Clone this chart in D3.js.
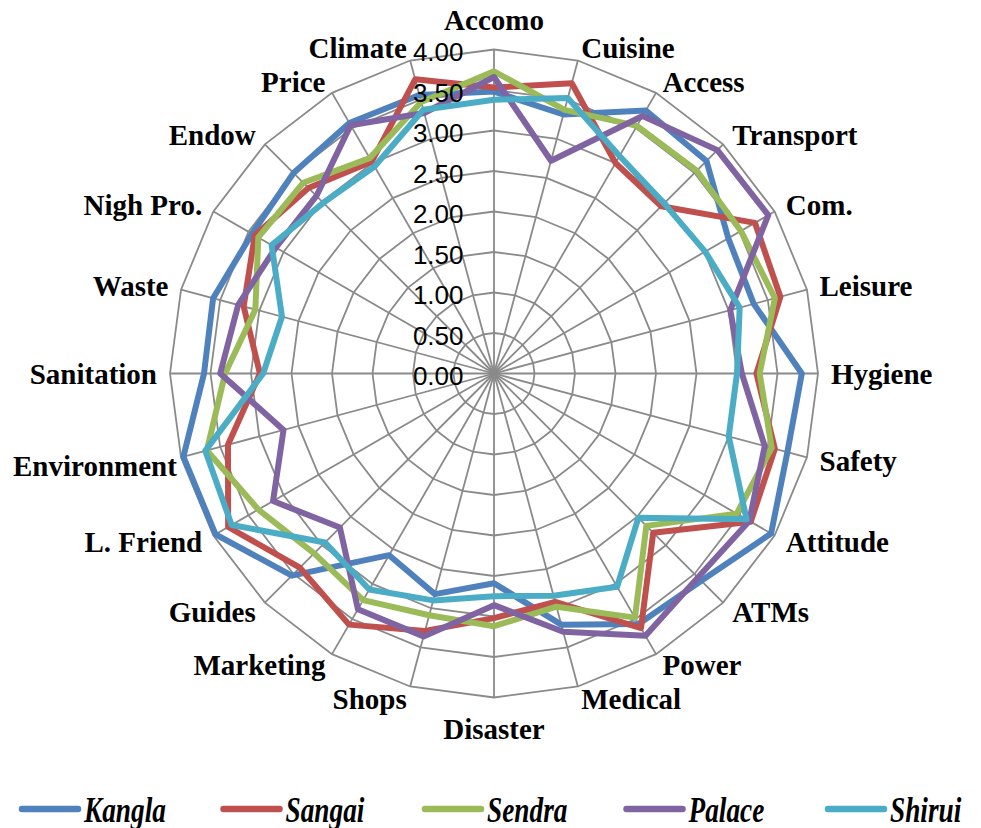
<!DOCTYPE html>
<html>
<head>
<meta charset="utf-8">
<script src="https://cdn.jsdelivr.net/npm/d3@7"></script>
<style>
  html, body { margin: 0; padding: 0; background: #ffffff; }
  svg { display: block; }
</style>
</head>
<body>
<svg id="chart" width="981" height="828"></svg>
<script>
// ---------------- DATA ----------------
const categories = ["Accomo", "Cuisine", "Access", "Transport", "Com.", "Leisure", "Hygiene",
  "Safety", "Attitude", "ATMs", "Power", "Medical", "Disaster", "Shops", "Marketing", "Guides",
  "L. Friend", "Environment", "Sanitation", "Waste", "Nigh Pro.", "Endow", "Price", "Climate"];

const seriesNames = ["Kangla", "Sangai", "Sendra", "Palace", "Shirui"];

const kangla = [3.48, 3.31, 3.75, 3.71, 3.34, 3.32, 3.80, 3.75, 3.95, 3.62, 3.57, 3.21,
  2.59, 2.82, 2.59, 3.53, 3.97, 3.97, 3.58, 3.59, 3.45, 3.50, 3.57, 3.56];
const sangai = [3.53, 3.71, 3.00, 2.92, 3.72, 3.66, 3.24, 3.59, 3.66, 2.78, 3.63, 2.92,
  3.02, 3.29, 3.58, 3.39, 3.79, 3.40, 2.89, 3.20, 3.41, 3.24, 3.02, 3.76];
const sendra = [3.73, 3.37, 3.53, 3.54, 3.52, 3.59, 3.28, 3.55, 3.46, 2.66, 3.48, 2.98,
  3.12, 3.09, 3.23, 3.14, 3.36, 3.67, 3.32, 3.05, 3.36, 3.33, 3.07, 3.47];
const palace = [3.66, 2.72, 3.67, 3.90, 3.91, 3.02, 3.06, 3.46, 3.64, 3.56, 3.74, 3.30,
  2.86, 3.36, 3.36, 2.69, 3.15, 2.69, 3.38, 3.27, 3.11, 3.10, 3.54, 3.33];
const shirui = [3.38, 3.52, 3.10, 2.97, 3.01, 3.14, 3.00, 3.00, 3.60, 2.52, 3.04, 2.84,
  2.75, 2.90, 3.08, 2.95, 3.74, 3.69, 2.85, 2.71, 3.17, 2.98, 2.95, 3.37];

const tickValues = [0, 0.5, 1, 1.5, 2, 2.5, 3, 3.5, 4];
const tickLabels = ["0.00", "0.50", "1.00", "1.50", "2.00", "2.50", "3.00", "3.50", "4.00"];

const seriesColors = ["#4F81BD", "#C0504D", "#9BBB59", "#8064A2", "#4BACC6"];
const seriesValues = [kangla, sangai, sendra, palace, shirui];

// ---------------- LAYOUT ----------------
const cx = 494, cy = 373.5, R = 324;
const svg = d3.select("#chart");
const g = svg.append("g").attr("transform", `translate(${cx},${cy})`);

const rScale = d3.scaleLinear().domain([0, 4]).range([0, R]);
const aScale = d3.scaleLinear().domain([0, categories.length]).range([0, 2 * Math.PI]);

const gridColor = "#8a8a8a";

// rings
const ringLine = d3.lineRadial()
  .angle((d, i) => aScale(i))
  .radius(d => d)
  .curve(d3.curveLinearClosed);

g.append("g").selectAll("path")
  .data(tickValues.filter(v => v > 0))
  .join("path")
  .attr("d", v => ringLine(categories.map(() => rScale(v))))
  .attr("fill", "none")
  .attr("stroke", gridColor)
  .attr("stroke-width", 1.8);

// spokes
g.append("g").selectAll("line")
  .data(categories)
  .join("line")
  .attr("x1", 0).attr("y1", 0)
  .attr("x2", (d, i) => rScale(4) * Math.sin(aScale(i)))
  .attr("y2", (d, i) => -rScale(4) * Math.cos(aScale(i)))
  .attr("stroke", gridColor)
  .attr("stroke-width", 1.8);

// series
const seriesLine = d3.lineRadial()
  .angle((d, i) => aScale(i))
  .radius(d => rScale(d))
  .curve(d3.curveLinearClosed);

g.append("g").selectAll("path")
  .data(seriesValues)
  .join("path")
  .attr("d", d => seriesLine(d))
  .attr("fill", "none")
  .attr("stroke", (d, i) => seriesColors[i])
  .attr("stroke-width", 6)
  .attr("stroke-linejoin", "round");

// tick labels
g.append("g").selectAll("text")
  .data(tickValues)
  .join("text")
  .attr("x", -30.5)
  .attr("y", v => -rScale(v) + 2.5)
  .attr("text-anchor", "end")
  .attr("dominant-baseline", "central")
  .attr("font-family", "'Liberation Sans', Arial, sans-serif")
  .attr("font-size", 26)
  .attr("fill", "#000")
  .text((v, i) => tickLabels[i]);

// category labels
const labelR = R + 13;
const catLabels = g.append("g").selectAll("text")
  .data(categories)
  .join("text")
  .attr("x", (d, i) => labelR * Math.sin(aScale(i)))
  .attr("y", (d, i) => {
    const a = aScale(i);
    let y = -labelR * Math.cos(a);
    if (Math.abs(Math.sin(a)) < 0.01) y += (Math.cos(a) > 0 ? -17 : 18);
    return y;
  })
  .attr("text-anchor", (d, i) => {
    const s = Math.sin(aScale(i));
    return Math.abs(s) < 0.01 ? "middle" : (s > 0 ? "start" : "end");
  })
  .attr("dominant-baseline", "central")
  .attr("font-family", "'Liberation Serif', 'Times New Roman', serif")
  .attr("font-weight", "bold")
  .attr("font-size", 29)
  .attr("fill", "#000")
  .text(d => d);

// keep labels inside the left edge
catLabels.each(function () {
  const bb = this.getBBox();
  const absLeft = cx + bb.x;
  if (absLeft < 13) {
    const shift = 13 - absLeft;
    d3.select(this).attr("x", +d3.select(this).attr("x") + shift)
      .attr("y", +d3.select(this).attr("y") + 5);
  }
});

// legend
const legendY = 809, legendX0 = 19, legendStep = 201.5;
const legend = svg.append("g").selectAll("g")
  .data(seriesNames)
  .join("g")
  .attr("transform", (d, i) => `translate(${legendX0 + i * legendStep},${legendY})`);

legend.append("line")
  .attr("x1", 3).attr("x2", 59)
  .attr("y1", 0).attr("y2", 0)
  .attr("stroke", (d, i) => seriesColors[i])
  .attr("stroke-width", 6.5)
  .attr("stroke-linecap", "round");

legend.append("text")
  .attr("x", 65)
  .attr("y", 1)
  .attr("dominant-baseline", "central")
  .attr("font-family", "'Liberation Serif', 'Times New Roman', serif")
  .attr("font-weight", "bold")
  .attr("font-style", "italic")
  .attr("font-size", 35)
  .attr("fill", "#000")
  .text(d => d)
  .each(function () {
    const w = this.getComputedTextLength();
    d3.select(this).attr("textLength", w * 0.78).attr("lengthAdjust", "spacingAndGlyphs");
  });
</script>
</body>
</html>
